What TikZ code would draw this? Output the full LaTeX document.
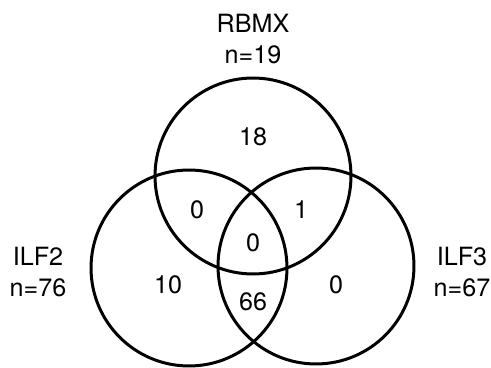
\documentclass[tikz,border=0pt]{standalone}
\usepackage{fontspec}
\setmainfont{TeX Gyre Heros}
\usepackage{tikz}
\usetikzlibrary{shapes,positioning}
\tikzset{set/.style={circle,draw,line width=1.7pt,minimum size=3.92cm,inner sep=0pt},
  lbl/.style={font=\fontsize{14.3}{17.9}\selectfont,align=center,inner sep=0pt},
  cnt/.style={font=\fontsize{14.3}{17.9}\selectfont,inner sep=0pt}}

\begin{document}
\begin{tikzpicture}[x=0.02cm,y=-0.02cm]
    \useasboundingbox (0,0) rectangle (491,368);
    \node[set] (r) at (253,176) {};
    \node[set] (a) at (189,268) {};
    \node[set] (b) at (316,266) {};

    \node[lbl] (rl) at (253,39) {RBMX\\n=19};
    \node[lbl] (al) at (38,272) {ILF2\\n=76};
    \node[lbl] (bl) at (462,272) {ILF3\\n=67};

    \node[cnt] (n1) at (253,137) {18};
    \node[cnt] (n2) at (197,210) {0};
    \node[cnt] (n3) at (301,210) {1};
    \node[cnt] (n4) at (253,243) {0};
    \node[cnt] (n5) at (168,285) {10};
    \node[cnt] (n6) at (253,302) {66};
    \node[cnt] (n7) at (336,285) {0};
\end{tikzpicture}
\end{document}
